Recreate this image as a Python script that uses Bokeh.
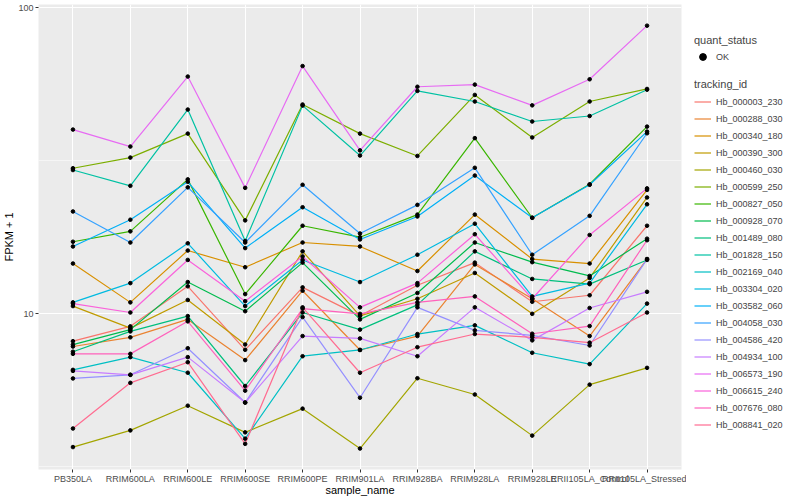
from bokeh.plotting import figure
from bokeh.models import FactorRange, Range1d, FixedTicker, Legend, LegendItem, PrintfTickFormatter
from bokeh.layouts import row, column
from bokeh.embed import file_html
from bokeh.resources import INLINE

samples = ["PB350LA", "RRIM600LA", "RRIM600LE", "RRIM600SE", "RRIM600PE", "RRIM901LA",
           "RRIM928BA", "RRIM928LA", "RRIM928LE", "RRII105LA_Control", "RRII105LA_Stressed"]

tracking_ids = ["Hb_000003_230", "Hb_000288_030", "Hb_000340_180", "Hb_000390_300", "Hb_000460_030",
                "Hb_000599_250", "Hb_000827_050", "Hb_000928_070", "Hb_001489_080", "Hb_001828_150",
                "Hb_002169_040", "Hb_003304_020", "Hb_003582_060", "Hb_004058_030", "Hb_004586_420",
                "Hb_004934_100", "Hb_006573_190", "Hb_006615_240", "Hb_007676_080", "Hb_008841_020"]

hb_000003_230 = [8.14, 9.10, 12.3, 7.63, 12.2, 9.85, 12.4, 14.7, 10.95, 11.5, 19.4]
hb_000288_030 = [7.82, 8.38, 9.59, 7.06, 11.9, 7.62, 8.46, 14.5, 11.2, 8.46, 15.1]
hb_000340_180 = [14.6, 10.9, 16.1, 14.2, 17.1, 16.6, 13.8, 21.1, 15.1, 14.6, 25.4]
hb_000390_300 = [10.6, 8.98, 11.1, 7.94, 16.0, 9.85, 11.2, 13.6, 10.0, 13.1, 24.0]
hb_000460_030 = [3.67, 4.16, 5.01, 4.10, 4.90, 3.63, 6.16, 5.45, 4.00, 5.87, 6.66]
hb_000599_250 = [29.9, 32.4, 38.8, 20.2, 48.3, 38.8, 32.8, 51.9, 37.7, 49.4, 54.3]
hb_000827_050 = [17.2, 18.6, 27.5, 11.6, 19.4, 17.8, 21.1, 37.5, 20.6, 26.5, 40.9]
hb_000928_070 = [7.93, 8.88, 12.7, 10.2, 14.7, 9.59, 11.7, 17.1, 14.75, 13.3, 17.6]
hb_001489_080 = [7.52, 8.76, 9.83, 5.81, 10.1, 8.88, 10.7, 16.0, 13.0, 12.5, 15.0]
hb_001828_150 = [29.5, 26.2, 46.5, 17.3, 47.9, 32.9, 53.5, 49.4, 42.5, 44.3, 54.0]
hb_002169_040 = [6.56, 7.22, 6.42, 3.91, 7.27, 7.62, 8.59, 9.17, 7.46, 6.85, 10.8]
hb_003304_020 = [10.9, 12.6, 17.0, 10.6, 15.0, 12.7, 15.6, 19.7, 11.4, 12.6, 22.8]
hb_003582_060 = [16.6, 20.3, 27.0, 16.4, 22.3, 17.5, 20.8, 28.3, 20.6, 26.4, 39.4]
hb_004058_030 = [21.6, 17.1, 25.9, 17.1, 26.4, 18.3, 22.7, 30.0, 15.6, 20.9, 38.9]
hb_004586_420 = [6.15, 6.32, 7.72, 5.13, 9.76, 5.32, 10.5, 8.83, 8.50, 7.88, 15.1]
hb_004934_100 = [6.51, 6.32, 7.22, 5.13, 8.46, 8.31, 7.27, 10.5, 8.19, 10.45, 11.8]
hb_006573_190 = [40.0, 35.2, 59.6, 25.8, 64.5, 34.2, 55.2, 56.1, 48.0, 58.4, 87.4]
hb_006615_240 = [10.8, 10.1, 15.0, 11.0, 15.4, 10.5, 12.6, 18.2, 11.2, 18.1, 25.7]
hb_007676_080 = [7.40, 7.40, 9.45, 5.61, 10.4, 10.0, 10.9, 11.4, 8.61, 9.12, 17.4]
hb_008841_020 = [4.22, 5.95, 6.95, 3.76, 10.5, 6.42, 7.78, 8.59, 8.38, 8.05, 10.1]

series_values = [hb_000003_230, hb_000288_030, hb_000340_180, hb_000390_300, hb_000460_030,
                 hb_000599_250, hb_000827_050, hb_000928_070, hb_001489_080, hb_001828_150,
                 hb_002169_040, hb_003304_020, hb_003582_060, hb_004058_030, hb_004586_420,
                 hb_004934_100, hb_006573_190, hb_006615_240, hb_007676_080, hb_008841_020]

palette = ["#F8766D", "#EA8331", "#D89000", "#C09B00", "#A3A500", "#7CAE00", "#39B600", "#00BB4E",
           "#00BF7D", "#00C1A3", "#00BFC4", "#00BAE0", "#00B0F6", "#35A2FF", "#9590FF", "#C77CFF",
           "#E76BF3", "#FA62DB", "#FF62BC", "#FF6C91"]

FONT = "Liberation Sans"
NAN = float("nan")

p = figure(width=686, height=498,
           x_range=FactorRange(factors=samples, range_padding=0.1, range_padding_units="absolute"),
           y_range=Range1d(3.1, 102.5), y_axis_type="log",
           output_backend="svg", toolbar_location=None,
           min_border_left=38, min_border_right=5, min_border_top=4, min_border_bottom=28)
p.background_fill_color = "#EBEBEB"
p.border_fill_color = "white"
p.outline_line_color = None

p.yaxis.ticker = FixedTicker(ticks=[10, 100], minor_ticks=[3.1623, 31.623])
p.yaxis.formatter = PrintfTickFormatter(format="%d")
p.xgrid.grid_line_color = "white"
p.xgrid.grid_line_width = 1.07
p.ygrid.grid_line_color = "white"
p.ygrid.grid_line_width = 1.07
p.ygrid.minor_grid_line_color = "white"
p.ygrid.minor_grid_line_width = 0.53

for ax in (p.xaxis[0], p.yaxis[0]):
    ax.axis_line_color = None
    ax.major_tick_line_color = "#333333"
    ax.major_tick_in = 0
    ax.major_tick_out = 3
    ax.minor_tick_line_color = None
    ax.major_label_text_font = FONT
    ax.major_label_text_font_size = "9px"
    ax.major_label_text_color = "#4D4D4D"
    ax.major_label_standoff = 1
    ax.axis_label_text_font = FONT
    ax.axis_label_text_font_size = "11px"
    ax.axis_label_text_font_style = "normal"
    ax.axis_label_text_color = "black"
p.xaxis.axis_label = "sample_name"
p.yaxis.axis_label = "FPKM + 1"
p.xaxis.axis_label_standoff = -3
p.yaxis.axis_label_standoff = 0

xs_all, ys_all = [], []
for vals, col in zip(series_values, palette):
    p.line(x=samples, y=vals, line_color=col, line_width=1.2)
    xs_all += samples
    ys_all += vals
p.scatter(x=xs_all, y=ys_all, size=3.6, color="black")


def legend_fig(h, top):
    f = figure(width=98, height=h, output_backend="svg", toolbar_location=None,
               x_axis_location=None, y_axis_location=None,
               x_range=Range1d(0, 1), y_range=Range1d(0, 1),
               min_border_left=8, min_border_top=top, min_border_right=0, min_border_bottom=0)
    f.outline_line_color = None
    f.background_fill_color = "white"
    f.border_fill_color = "white"
    f.grid.visible = False
    return f


def style_legend(lg, standoff):
    lg.location = "top_left"
    lg.title_text_font = FONT
    lg.title_text_font_size = "11px"
    lg.title_text_font_style = "normal"
    lg.title_standoff = standoff
    lg.label_text_font = FONT
    lg.label_text_font_size = "9px"
    lg.glyph_width = 17
    lg.glyph_height = 17
    lg.label_standoff = 5
    lg.label_height = 17
    lg.spacing = 0
    lg.padding = 0
    lg.margin = 0
    lg.border_line_color = None
    lg.background_fill_alpha = 0


leg1 = legend_fig(62, 34)
r_ok = leg1.scatter(x=[NAN], y=[NAN], size=3.6, color="black")
lg1 = Legend(items=[LegendItem(label="OK", renderers=[r_ok])], title="quant_status")
style_legend(lg1, 2)
leg1.add_layout(lg1)

leg2 = legend_fig(436, 16)
items = []
for tid, col in zip(tracking_ids, palette):
    r = leg2.line(x=[NAN, NAN], y=[NAN, NAN], line_color=col, line_width=1.2)
    items.append(LegendItem(label=tid, renderers=[r]))
lg2 = Legend(items=items, title="tracking_id")
style_legend(lg2, 3)
leg2.add_layout(lg2)

layout = row(p, column(leg1, leg2))
open("out.html", "w").write(file_html(layout, INLINE))
